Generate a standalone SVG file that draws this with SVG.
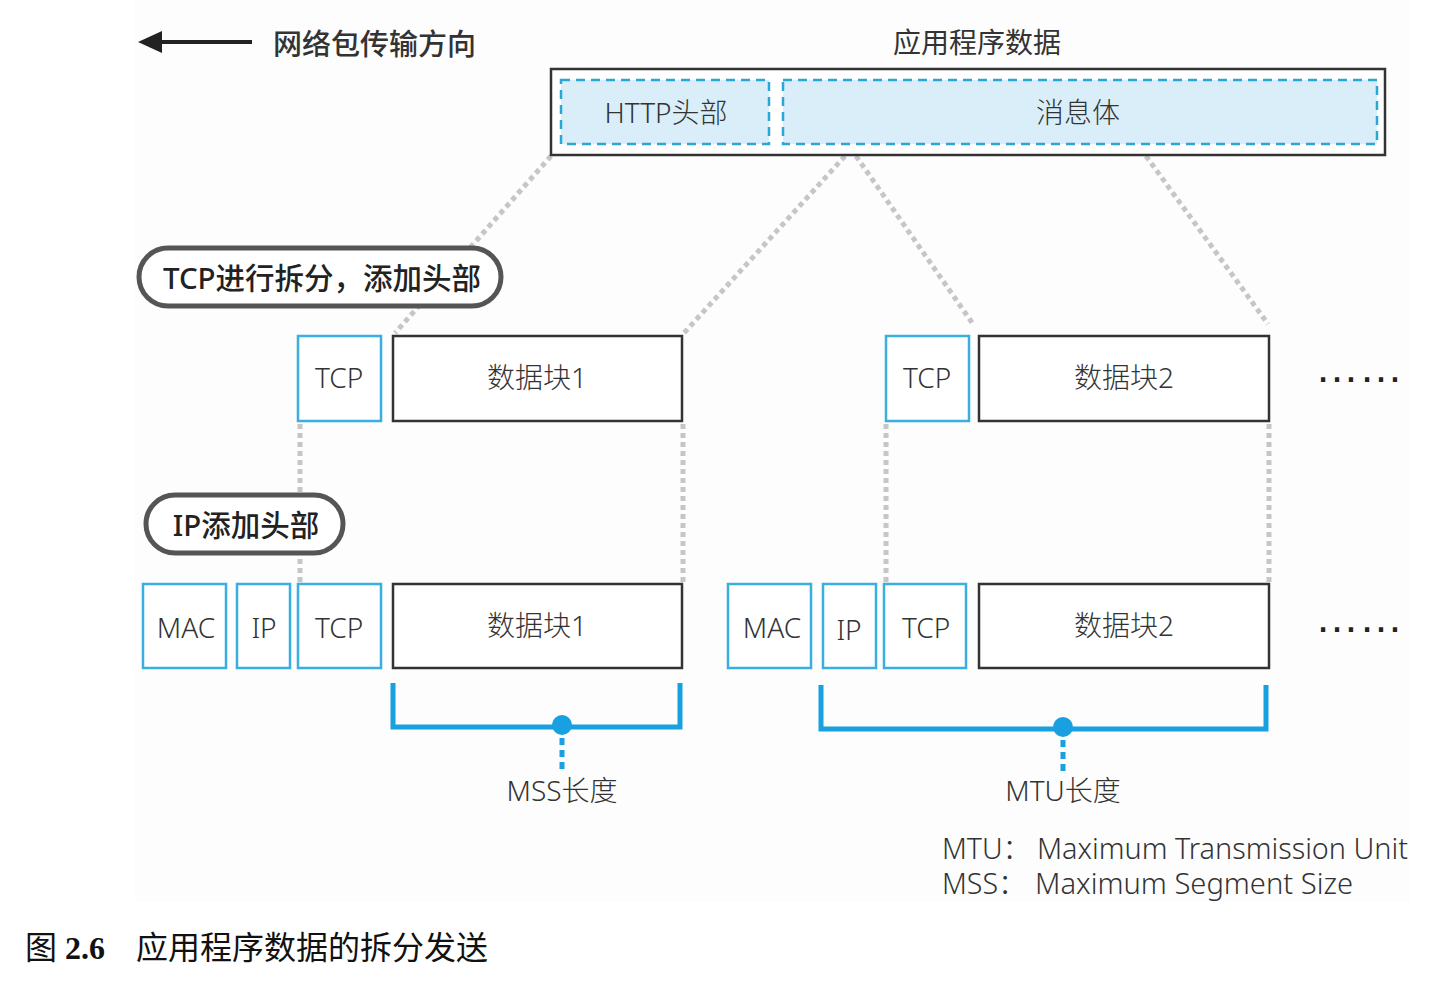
<svg xmlns="http://www.w3.org/2000/svg" width="1440" height="984" viewBox="0 0 1440 984">
  <style>
    .lbl { font-family: "Noto Sans", "Noto Sans CJK SC", sans-serif; font-weight: 300; fill: #333; font-size: 28px; text-anchor: middle; dominant-baseline: central; }
    .pill { fill: #fff; stroke: #555; stroke-width: 5; }
    .pilltxt { font-family: "Noto Sans", "Noto Sans CJK SC", sans-serif; font-weight: 500; fill: #222; font-size: 29.5px; text-anchor: middle; dominant-baseline: central; }
    .hdr { fill: #fff; stroke: #3aaee0; stroke-width: 2.5; }
    .data { fill: #fff; stroke: #333; stroke-width: 2.5; }
    .dash { fill: #d9eef9; stroke: #2aa6d8; stroke-width: 2.5; stroke-dasharray: 9 6; }
    .dot { fill: none; stroke: #c6c6c6; stroke-width: 5; stroke-dasharray: 5 4; }
    .brk { fill: none; stroke: #18a0e0; stroke-width: 5; }
    .brkdot { fill: none; stroke: #18a0e0; stroke-width: 5; stroke-dasharray: 7 5; }
    .legend { font-family: "Noto Sans", "Noto Sans CJK SC", sans-serif; font-weight: 300; fill: #333; font-size: 28.5px; }
    .more { font-family: "Liberation Sans", sans-serif; font-size: 44px; fill: #222; }
  </style>

  <rect x="0" y="0" width="1440" height="984" fill="#fff"/>
  <rect x="135" y="0" width="1275" height="902" fill="#fdfdfd"/>

  <!-- direction arrow -->
  <g id="direction">
    <line x1="252" y1="42" x2="156" y2="42" stroke="#222" stroke-width="4"/>
    <polygon points="138,42 162,31 162,53" fill="#222"/>
    <text x="273" y="42" font-family="Noto Sans CJK SC, sans-serif" font-weight="500" font-size="29" fill="#333" dominant-baseline="central">网络包传输方向</text>
  </g>

  <!-- connectors -->
  <g id="connectors">
    <line class="dot" x1="551" y1="156" x2="395" y2="333"/>
    <line class="dot" x1="845" y1="156" x2="684" y2="333"/>
    <line class="dot" x1="856" y1="156" x2="973" y2="324"/>
    <line class="dot" x1="1146" y1="156" x2="1268" y2="324"/>
    <line class="dot" x1="300" y1="424" x2="300" y2="582"/>
    <line class="dot" x1="683" y1="424" x2="683" y2="582"/>
    <line class="dot" x1="886" y1="424" x2="886" y2="582"/>
    <line class="dot" x1="1269" y1="424" x2="1269" y2="582"/>
  </g>

  <!-- application data -->
  <g id="app-data">
    <text class="lbl" x="977" y="42" style="font-weight:400">应用程序数据</text>
    <rect x="551" y="69" width="834" height="86" fill="#fff" stroke="#333" stroke-width="2.5"/>
    <rect class="dash" x="561" y="80" width="208" height="64"/>
    <rect class="dash" x="783" y="80" width="594" height="64"/>
    <text class="lbl" x="666" y="112">HTTP头部</text>
    <text class="lbl" x="1078" y="112">消息体</text>
  </g>

  <!-- TCP split label -->
  <g id="tcp-note">
    <rect class="pill" x="139" y="248" width="362" height="58" rx="29"/>
    <text class="pilltxt" x="322" y="277">TCP进行拆分，添加头部</text>
  </g>

  <!-- TCP segments -->
  <g id="tcp-seg-1">
    <rect class="hdr" x="298" y="336" width="83" height="85"/>
    <text class="lbl" x="339" y="377">TCP</text>
    <rect class="data" x="393" y="336" width="289" height="85"/>
    <text class="lbl" x="537" y="377">数据块1</text>
  </g>
  <g id="tcp-seg-2">
    <rect class="hdr" x="886" y="336" width="83" height="85"/>
    <text class="lbl" x="927" y="377">TCP</text>
    <rect class="data" x="979" y="336" width="290" height="85"/>
    <text class="lbl" x="1124" y="377">数据块2</text>
  </g>
  <g id="more-1">
    <text class="more" x="1315" y="382">……</text>
  </g>

  <!-- IP label -->
  <g id="ip-note">
    <rect class="pill" x="146" y="495" width="197" height="58" rx="29"/>
    <text class="pilltxt" x="246" y="524">IP添加头部</text>
  </g>

  <!-- frames -->
  <g id="frame-1">
    <rect class="hdr" x="143" y="584" width="83" height="84"/>
    <text class="lbl" x="186" y="627">MAC</text>
    <rect class="hdr" x="237" y="584" width="53" height="84"/>
    <text class="lbl" x="264" y="627">IP</text>
    <rect class="hdr" x="298" y="584" width="83" height="84"/>
    <text class="lbl" x="339" y="627">TCP</text>
    <rect class="data" x="393" y="584" width="289" height="84"/>
    <text class="lbl" x="537" y="625">数据块1</text>
  </g>
  <g id="frame-2">
    <rect class="hdr" x="728" y="584" width="83" height="84"/>
    <text class="lbl" x="772" y="627">MAC</text>
    <rect class="hdr" x="823" y="584" width="53" height="84"/>
    <text class="lbl" x="849" y="629">IP</text>
    <rect class="hdr" x="884" y="584" width="82" height="84"/>
    <text class="lbl" x="926" y="627">TCP</text>
    <rect class="data" x="979" y="584" width="290" height="84"/>
    <text class="lbl" x="1124" y="625">数据块2</text>
  </g>
  <g id="more-2">
    <text class="more" x="1315" y="632">……</text>
  </g>

  <!-- MSS span -->
  <g id="mss">
    <polyline class="brk" points="393,683 393,727 680,727 680,683"/>
    <circle cx="562" cy="725" r="10" fill="#18a0e0"/>
    <line class="brkdot" x1="562" y1="738" x2="562" y2="770"/>
    <text class="lbl" x="562" y="790">MSS长度</text>
  </g>

  <!-- MTU span -->
  <g id="mtu">
    <polyline class="brk" points="821,685 821,729 1266,729 1266,685"/>
    <circle cx="1063" cy="727" r="10" fill="#18a0e0"/>
    <line class="brkdot" x1="1063" y1="740" x2="1063" y2="772"/>
    <text class="lbl" x="1063" y="790">MTU长度</text>
  </g>

  <!-- legend -->
  <g id="legend">
    <text class="legend" x="942" y="859">MTU：</text>
    <text class="legend" x="1037" y="859" textLength="371" lengthAdjust="spacingAndGlyphs">Maximum Transmission Unit</text>
    <text class="legend" x="942" y="894">MSS：</text>
    <text class="legend" x="1035" y="894" textLength="318" lengthAdjust="spacingAndGlyphs">Maximum Segment Size</text>
  </g>

  <!-- caption -->
  <g id="caption">
    <text x="25" y="959" font-family="Liberation Serif, Noto Sans CJK SC, serif" font-size="32" fill="#111">图 <tspan font-weight="bold">2.6</tspan><tspan x="136">应用程序数据的拆分发送</tspan></text>
  </g>
</svg>
